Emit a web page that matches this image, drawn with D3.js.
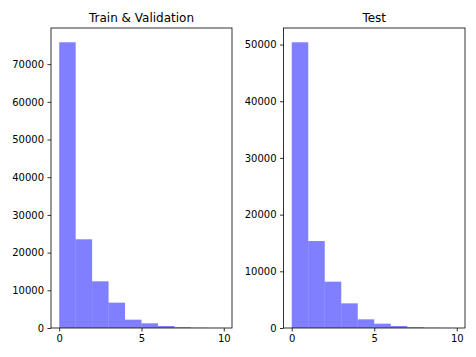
<!DOCTYPE html>
<html><head><meta charset="utf-8">
<script src="https://cdn.jsdelivr.net/npm/d3@7"></script>
<style>body{margin:0;background:#fff}svg{display:block}text{font-family:"DejaVu Sans",sans-serif}</style>
</head><body><svg id="c" width="476" height="357"></svg>
<script>
const binEdges = [0,1,2,3,4,5,6,7,8,9,10];
const trainCounts = [75800, 23530, 12390, 6720, 2210, 1240, 530, 190, 60, 20];
const testCounts = [50400, 15340, 8170, 4350, 1530, 760, 350, 130, 40, 15];
const titles = ["Train & Validation", "Test"];
const xTicks = [0, 5, 10];
const trainYTicks = [0, 10000, 20000, 30000, 40000, 50000, 60000, 70000];
const testYTicks = [0, 10000, 20000, 30000, 40000, 50000];

const svg = d3.select("#c");
const panels = [
  {title: titles[0], counts: trainCounts, yTicks: trainYTicks, x0: 51, x1: 232},
  {title: titles[1], counts: testCounts, yTicks: testYTicks, x0: 283.5, x1: 465}
];
const plotTop = 28, plotBottom = 328;
panels.forEach(p => {
  const g = svg.append("g");
  const x = d3.scaleLinear().domain([-0.5, 10.5]).range([p.x0, p.x1]);
  const ymax = d3.max(p.counts) * 1.05;
  const y = d3.scaleLinear().domain([0, ymax]).range([plotBottom, plotTop]);
  const bins = p.counts.map((c, i) => ({x0: binEdges[i], x1: binEdges[i+1], c}));
  g.selectAll("rect.bar").data(bins).enter().append("rect")
    .attr("x", d => x(d.x0)).attr("width", d => x(d.x1) - x(d.x0))
    .attr("y", d => y(d.c)).attr("height", d => plotBottom - y(d.c))
    .attr("fill", "#0000ff").attr("fill-opacity", 0.5);
  const xa = g.append("g").attr("transform", `translate(0,${plotBottom})`)
    .call(d3.axisBottom(x).tickValues(xTicks).tickSize(3.5).tickPadding(3.5).tickFormat(d3.format("d")));
  const ya = g.append("g").attr("transform", `translate(${p.x0},0)`)
    .call(d3.axisLeft(y).tickValues(p.yTicks).tickSize(3.5).tickPadding(3.5).tickFormat(d3.format("d")));
  [xa, ya].forEach(a => {
    a.select(".domain").remove();
    a.selectAll("text").attr("font-size", 10).attr("fill", "#000").attr("font-family", "DejaVu Sans");
    a.selectAll("line").attr("stroke", "#000").attr("stroke-width", 0.8);
  });
  g.append("rect").attr("x", p.x0).attr("y", plotTop).attr("width", p.x1 - p.x0).attr("height", plotBottom - plotTop)
    .attr("fill", "none").attr("stroke", "#000").attr("stroke-width", 0.8);
  g.append("text").attr("x", (p.x0 + p.x1) / 2).attr("y", 22).attr("text-anchor", "middle")
    .attr("font-size", 12).attr("fill", "#000").text(p.title);
});
</script></body></html>
